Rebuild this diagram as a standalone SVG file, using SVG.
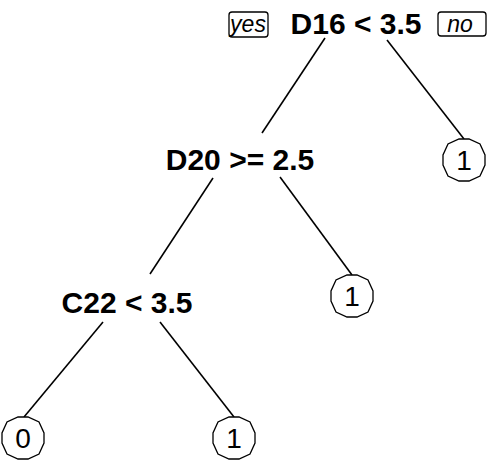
<svg xmlns="http://www.w3.org/2000/svg" width="488" height="461" viewBox="0 0 488 461">
<style>
.split{font-family:"Liberation Sans",Arial,sans-serif;font-weight:bold;font-size:30px;fill:#000;text-anchor:middle}
.leaftxt{font-family:"Liberation Sans",Arial,sans-serif;font-size:28px;fill:#000;text-anchor:middle}
.yn{font-family:"Liberation Sans",Arial,sans-serif;font-style:italic;font-size:23px;fill:#000;text-anchor:middle}
.box{fill:#fff;stroke:#000;stroke-width:1.3}
.edge{stroke:#000;stroke-width:1.6;fill:none}
</style>
<defs>
<polygon id="leafshape" class="box" points="-5,-21 5,-21 16,-16 21,-5 21,5 16,16 5,21 -5,21 -16,16 -21,5 -21,-5 -16,-16"/>
</defs>
<g id="connectors">
<line class="edge" x1="325" y1="38" x2="262" y2="133"/>
<line class="edge" x1="387" y1="40" x2="464" y2="139"/>
<line class="edge" x1="213" y1="178" x2="150" y2="274"/>
<line class="edge" x1="280" y1="177" x2="352" y2="275"/>
<line class="edge" x1="103" y1="322" x2="24" y2="417"/>
<line class="edge" x1="160" y1="322" x2="234" y2="417"/>
</g>
<g id="yes-label">
<rect class="box" x="229" y="12" width="39" height="25" rx="3"/>
<text class="yn" x="248" y="32">yes</text>
</g>
<g id="no-label">
<rect class="box" x="438" y="12" width="48" height="24" rx="3"/>
<text class="yn" x="460" y="32">no</text>
</g>
<g id="node-root">
<text class="split" x="356" y="34">D16 &lt; 3.5</text>
</g>
<g id="node-d20">
<text class="split" x="240" y="170">D20 &gt;= 2.5</text>
</g>
<g id="node-c22">
<text class="split" x="127" y="313">C22 &lt; 3.5</text>
</g>
<g id="leaf-right">
<use href="#leafshape" x="464" y="160"/>
<text class="leaftxt" x="464" y="170">1</text>
</g>
<g id="leaf-mid">
<use href="#leafshape" x="352" y="296"/>
<text class="leaftxt" x="352" y="306">1</text>
</g>
<g id="leaf-0">
<use href="#leafshape" x="23" y="438"/>
<text class="leaftxt" x="23" y="448">0</text>
</g>
<g id="leaf-1">
<use href="#leafshape" x="234" y="438"/>
<text class="leaftxt" x="234" y="448">1</text>
</g>
</svg>
